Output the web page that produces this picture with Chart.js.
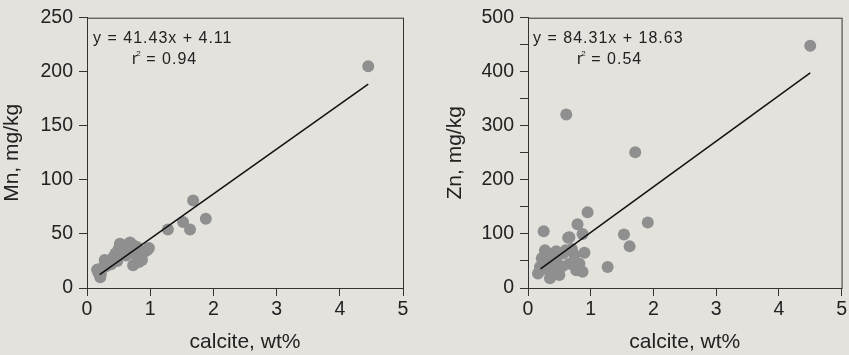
<!DOCTYPE html>
<html>
<head>
<meta charset="utf-8">
<script src="https://cdn.jsdelivr.net/npm/chart.js@4.4.0/dist/chart.umd.min.js"></script>
<style>
  body { margin: 0; background: #e4e2dd; }
  #wrap { position: relative; width: 849px; height: 355px; overflow: hidden; }
  .box { position: absolute; top: 0; height: 355px; }
</style>
</head>
<body>
<div id="wrap">
  <div class="box" style="left:0;width:420px"><canvas id="mnChart"></canvas></div>
  <div class="box" style="left:420px;width:429px"><canvas id="znChart"></canvas></div>
</div>
<script>
// calcite (wt%) vs Mn (mg/kg)
const mnCalcite = [4.45, 1.68, 1.88, 1.63, 1.52, 1.28,
    0.21, 0.16, 0.28, 0.41, 0.52, 0.68, 0.79, 0.95, 0.73, 0.87, 0.57,
    0.18, 0.25, 0.33, 0.45, 0.50, 0.60, 0.62, 0.70, 0.78, 0.82, 0.90, 0.98, 0.55, 0.65, 0.72,
    0.22, 0.30, 0.38, 0.48];
const mnValues = [205, 81, 64, 54, 61, 54,
    10, 17, 26, 28, 41, 42, 38, 35, 21, 26, 33,
    14, 19, 24, 32, 36, 38, 30, 35, 30, 24, 33, 37, 40, 40, 40,
    13, 20, 22, 25];

// calcite (wt%) vs Zn (mg/kg)
const znCalcite = [4.50, 0.61, 1.71, 0.95, 1.91, 0.25, 1.53, 1.62, 1.27,
    0.79, 0.66, 0.87, 0.90, 0.27, 0.40, 0.56, 0.19, 0.16, 0.35, 0.50,
    0.77, 0.87, 0.66, 0.74, 0.29, 0.76, 0.64, 0.22, 0.45,
    0.30, 0.35, 0.55, 0.60, 0.70, 0.45, 0.82, 0.25, 0.42];
const znValues = [448, 321, 251, 140, 121, 105, 99, 77, 39,
    118, 94, 100, 65, 70, 64, 64, 39, 27, 18, 24,
    33, 30, 45, 61, 48, 39, 93, 55, 50,
    60, 45, 40, 70, 72, 68, 45, 35, 30];

// regression line end points
const mnFitX = [0.2, 4.45];
const mnFitY = [12.4, 188.5];
const znFitX = [0.2, 4.5];
const znFitY = [35.5, 398];

const xTicks = [0, 1, 2, 3, 4, 5];

function pts(xs, ys) {
    return xs.map((x, i) => ({ x: x, y: ys[i] }));
}

const ink = '#222';
const fam = 'Liberation Sans, Arial, sans-serif';
const tickFont = { family: fam, size: 19.5 };
const titleFont = { family: fam, size: 21 };

const framePlugin = {
    id: 'frame',
    afterDraw(chart, args, opts) {
        const a = chart.chartArea;
        const c = chart.ctx;
        c.save();
        c.strokeStyle = '#333';
        c.lineWidth = 1;
        c.strokeRect(a.left + 0.5, a.top + 0.5, a.right - a.left, a.bottom - a.top);
        // equation text
        c.fillStyle = ink;
        c.letterSpacing = '1px';
        c.font = '16px ' + fam;
        c.textBaseline = 'alphabetic';
        c.fillText(opts.eq, opts.eqX, 42.5);
        c.fillText('r', opts.rX, 64);
        const rw = c.measureText('r').width;
        c.letterSpacing = '0px';
        c.font = '8px ' + fam;
        c.fillText('2', opts.rX + rw - 2, 56);
        c.letterSpacing = '1px';
        c.font = '16px ' + fam;
        c.fillText('= ' + opts.r2, opts.rX + rw + 8, 64);
        c.restore();
    }
};

function makeChart(el, cfg) {
    return new Chart(el, {
        data: {
            datasets: [{
                type: 'line',
                data: pts(cfg.fitX, cfg.fitY),
                borderColor: '#111',
                borderWidth: 1.5,
                pointRadius: 0,
                order: 0
            }, {
                type: 'scatter',
                data: pts(cfg.xs, cfg.ys),
                backgroundColor: '#8f8f8f',
                borderColor: '#8f8f8f',
                borderWidth: 0,
                pointRadius: 6,
                order: 1
            }]
        },
        options: {
            responsive: false,
            animation: false,
            layout: { padding: { top: cfg.top, right: cfg.right, left: 0, bottom: 0 } },
            plugins: {
                legend: { display: false },
                tooltip: { enabled: false },
                frame: cfg.frame
            },
            scales: {
                x: {
                    type: 'linear',
                    min: 0, max: 5,
                    afterBuildTicks: s => { s.ticks = xTicks.map(v => ({ value: v })); },
                    afterFit: s => { s.height = 67; },
                    grid: { drawOnChartArea: false, tickLength: 8, color: '#333', tickWidth: 1 },
                    border: { color: '#333' },
                    ticks: { color: ink, font: tickFont, padding: 2, maxRotation: 0 },
                    title: { display: true, text: 'calcite, wt%', color: ink, font: titleFont, padding: { top: 0, bottom: 0 } }
                },
                y: {
                    type: 'linear',
                    min: 0, max: cfg.yMax,
                    afterFit: s => { s.width = cfg.yWidth; },
                    grid: { drawOnChartArea: false, tickLength: 8, color: '#333', tickWidth: 1 },
                    border: { color: '#333' },
                    ticks: {
                        color: ink, font: tickFont, padding: 6, stepSize: cfg.step, autoSkip: false,
                        callback: v => (v % cfg.labelStep === 0 ? v : '')
                    },
                    title: { display: true, text: cfg.yTitle, color: ink, font: titleFont, padding: { top: cfg.titlePad, bottom: 0 } }
                }
            }
        },
        plugins: [framePlugin]
    });
}

const c1 = document.getElementById('mnChart');
c1.width = 420; c1.height = 355;
makeChart(c1, {
    xs: mnCalcite, ys: mnValues, fitX: mnFitX, fitY: mnFitY,
    yMax: 250, step: 50, labelStep: 50, yTitle: 'Mn, mg/kg',
    top: 17, right: 17, yWidth: 87, titlePad: 0,
    frame: { eq: 'y = 41.43x + 4.11', eqX: 93, rX: 132, r2: '0.94' }
});

const c2 = document.getElementById('znChart');
c2.width = 429; c2.height = 355;
makeChart(c2, {
    xs: znCalcite, ys: znValues, fitX: znFitX, fitY: znFitY,
    yMax: 500, step: 50, labelStep: 100, yTitle: 'Zn, mg/kg',
    top: 16, right: 4, yWidth: 108, titlePad: 23,
    frame: { eq: 'y = 84.31x + 18.63', eqX: 113, rX: 157, r2: '0.54' }
});
</script>
</body>
</html>
